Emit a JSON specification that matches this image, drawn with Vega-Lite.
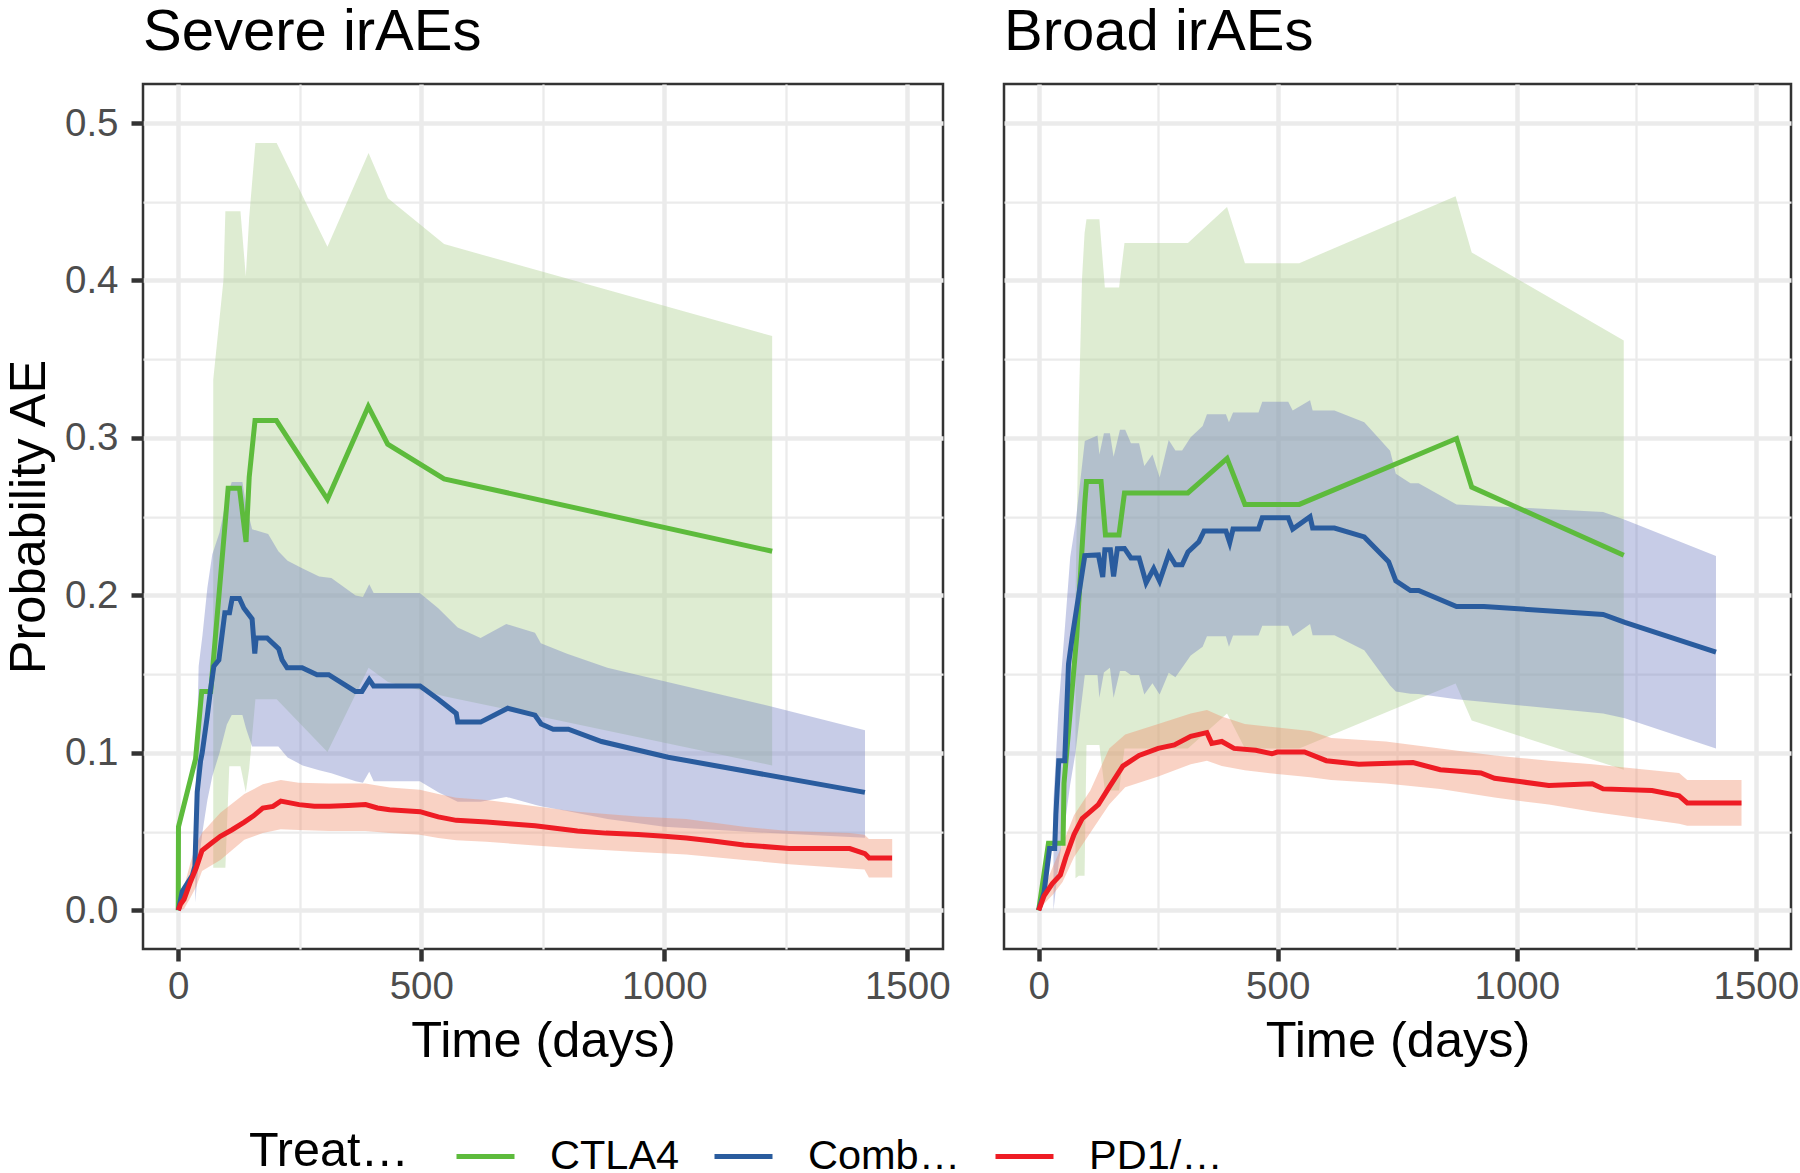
{
  "$schema": "https://vega.github.io/schema/vega-lite/v6.json",
  "background": "white",
  "padding": {"left": 3, "top": 2, "right": 0, "bottom": 110},
  "bounds": "flush",
  "spacing": 61,
  "config": {
    "font": "Liberation Sans",
    "view": {"stroke": "#333333", "strokeWidth": 2.5},
    "axis": {
      "domain": false,
      "gridColor": "#EBEBEB",
      "tickColor": "#333333",
      "tickSize": 12,
      "tickWidth": 4.5,
      "labelColor": "#4D4D4D",
      "labelFontSize": 38.5,
      "titleFontSize": 50.5,
      "titleColor": "#000000",
      "titleFontWeight": "normal"
    },
    "axisX": {"labelPadding": 7, "titlePadding": 11},
    "axisY": {"labelPadding": 13, "titlePadding": 9},
    "title": {"fontSize": 58, "fontWeight": "normal", "anchor": "start", "frame": "group", "color": "#000000", "offset": 22},
    "legend": {
      "orient": "none",
      "legendX": 106,
      "legendY": 1041,
      "direction": "horizontal",
      "titleOrient": "left",
      "titleFontSize": 48.5,
      "titleFontWeight": "normal",
      "titleColor": "#000000",
      "titlePadding": 45,
      "labelFontSize": 41.5,
      "labelColor": "#000000",
      "labelOffset": 33,
      "symbolType": "stroke",
      "symbolSize": 3364,
      "symbolStrokeWidth": 5,
      "columnPadding": 24
    }
  },
  "datasets": {
    "estL": [
      {"treatment": "CTLA4", "time": 0, "p": 0},
      {"treatment": "CTLA4", "time": 0.5, "p": 0.053},
      {"treatment": "CTLA4", "time": 35.6, "p": 0.096},
      {"treatment": "CTLA4", "time": 48.3, "p": 0.139},
      {"treatment": "CTLA4", "time": 66.8, "p": 0.139},
      {"treatment": "CTLA4", "time": 102.7, "p": 0.268},
      {"treatment": "CTLA4", "time": 126, "p": 0.268},
      {"treatment": "CTLA4", "time": 139.5, "p": 0.234},
      {"treatment": "CTLA4", "time": 146, "p": 0.275},
      {"treatment": "CTLA4", "time": 158, "p": 0.311},
      {"treatment": "CTLA4", "time": 202, "p": 0.311},
      {"treatment": "CTLA4", "time": 307, "p": 0.261},
      {"treatment": "CTLA4", "time": 391, "p": 0.32},
      {"treatment": "CTLA4", "time": 431, "p": 0.296},
      {"treatment": "CTLA4", "time": 547, "p": 0.274},
      {"treatment": "CTLA4", "time": 1222, "p": 0.228},
      {"treatment": "Combination therapy", "time": 0, "p": 0},
      {"treatment": "Combination therapy", "time": 1.4, "p": 0.0015},
      {"treatment": "Combination therapy", "time": 8.2, "p": 0.012},
      {"treatment": "Combination therapy", "time": 28.8, "p": 0.022},
      {"treatment": "Combination therapy", "time": 34.3, "p": 0.028},
      {"treatment": "Combination therapy", "time": 39, "p": 0.075},
      {"treatment": "Combination therapy", "time": 46, "p": 0.095},
      {"treatment": "Combination therapy", "time": 49.3, "p": 0.1},
      {"treatment": "Combination therapy", "time": 59.6, "p": 0.123},
      {"treatment": "Combination therapy", "time": 66.4, "p": 0.14},
      {"treatment": "Combination therapy", "time": 73.3, "p": 0.155},
      {"treatment": "Combination therapy", "time": 83.6, "p": 0.159},
      {"treatment": "Combination therapy", "time": 95.9, "p": 0.189},
      {"treatment": "Combination therapy", "time": 105.5, "p": 0.189},
      {"treatment": "Combination therapy", "time": 110.9, "p": 0.198},
      {"treatment": "Combination therapy", "time": 126, "p": 0.198},
      {"treatment": "Combination therapy", "time": 134.9, "p": 0.192},
      {"treatment": "Combination therapy", "time": 152, "p": 0.185},
      {"treatment": "Combination therapy", "time": 157.5, "p": 0.163},
      {"treatment": "Combination therapy", "time": 160.3, "p": 0.173},
      {"treatment": "Combination therapy", "time": 182.9, "p": 0.173},
      {"treatment": "Combination therapy", "time": 206.8, "p": 0.166},
      {"treatment": "Combination therapy", "time": 213.7, "p": 0.159},
      {"treatment": "Combination therapy", "time": 224, "p": 0.154},
      {"treatment": "Combination therapy", "time": 254.8, "p": 0.154},
      {"treatment": "Combination therapy", "time": 285.6, "p": 0.1496},
      {"treatment": "Combination therapy", "time": 309.6, "p": 0.1496},
      {"treatment": "Combination therapy", "time": 364.4, "p": 0.139},
      {"treatment": "Combination therapy", "time": 378, "p": 0.139},
      {"treatment": "Combination therapy", "time": 393, "p": 0.1465},
      {"treatment": "Combination therapy", "time": 402, "p": 0.1425},
      {"treatment": "Combination therapy", "time": 497.6, "p": 0.1425},
      {"treatment": "Combination therapy", "time": 535, "p": 0.134},
      {"treatment": "Combination therapy", "time": 572, "p": 0.125},
      {"treatment": "Combination therapy", "time": 575, "p": 0.1195},
      {"treatment": "Combination therapy", "time": 622, "p": 0.1195},
      {"treatment": "Combination therapy", "time": 678, "p": 0.1283},
      {"treatment": "Combination therapy", "time": 734, "p": 0.1239},
      {"treatment": "Combination therapy", "time": 746.7, "p": 0.1183},
      {"treatment": "Combination therapy", "time": 771.5, "p": 0.115},
      {"treatment": "Combination therapy", "time": 802.7, "p": 0.115},
      {"treatment": "Combination therapy", "time": 871, "p": 0.1072},
      {"treatment": "Combination therapy", "time": 1008, "p": 0.0972},
      {"treatment": "Combination therapy", "time": 1412.8, "p": 0.0749},
      {"treatment": "PD1/PD-L1", "time": 0, "p": 0},
      {"treatment": "PD1/PD-L1", "time": 5, "p": 0.004},
      {"treatment": "PD1/PD-L1", "time": 12, "p": 0.007},
      {"treatment": "PD1/PD-L1", "time": 25, "p": 0.018},
      {"treatment": "PD1/PD-L1", "time": 37, "p": 0.027},
      {"treatment": "PD1/PD-L1", "time": 49, "p": 0.038},
      {"treatment": "PD1/PD-L1", "time": 70, "p": 0.043},
      {"treatment": "PD1/PD-L1", "time": 86.7, "p": 0.047},
      {"treatment": "PD1/PD-L1", "time": 110, "p": 0.051},
      {"treatment": "PD1/PD-L1", "time": 136, "p": 0.056},
      {"treatment": "PD1/PD-L1", "time": 155, "p": 0.06},
      {"treatment": "PD1/PD-L1", "time": 174, "p": 0.0649},
      {"treatment": "PD1/PD-L1", "time": 195, "p": 0.066},
      {"treatment": "PD1/PD-L1", "time": 211, "p": 0.0693},
      {"treatment": "PD1/PD-L1", "time": 248.6, "p": 0.0671},
      {"treatment": "PD1/PD-L1", "time": 280, "p": 0.066},
      {"treatment": "PD1/PD-L1", "time": 311, "p": 0.066},
      {"treatment": "PD1/PD-L1", "time": 350, "p": 0.0665},
      {"treatment": "PD1/PD-L1", "time": 385.5, "p": 0.0671},
      {"treatment": "PD1/PD-L1", "time": 410, "p": 0.065},
      {"treatment": "PD1/PD-L1", "time": 435, "p": 0.0638},
      {"treatment": "PD1/PD-L1", "time": 497.6, "p": 0.0626},
      {"treatment": "PD1/PD-L1", "time": 515, "p": 0.061},
      {"treatment": "PD1/PD-L1", "time": 535, "p": 0.0593},
      {"treatment": "PD1/PD-L1", "time": 572, "p": 0.0571},
      {"treatment": "PD1/PD-L1", "time": 634.5, "p": 0.056},
      {"treatment": "PD1/PD-L1", "time": 680, "p": 0.055},
      {"treatment": "PD1/PD-L1", "time": 734, "p": 0.0537},
      {"treatment": "PD1/PD-L1", "time": 780, "p": 0.052},
      {"treatment": "PD1/PD-L1", "time": 821.4, "p": 0.0504},
      {"treatment": "PD1/PD-L1", "time": 880, "p": 0.049},
      {"treatment": "PD1/PD-L1", "time": 945.9, "p": 0.0481},
      {"treatment": "PD1/PD-L1", "time": 1000, "p": 0.047},
      {"treatment": "PD1/PD-L1", "time": 1045.5, "p": 0.0459},
      {"treatment": "PD1/PD-L1", "time": 1100, "p": 0.044},
      {"treatment": "PD1/PD-L1", "time": 1163.7, "p": 0.0415},
      {"treatment": "PD1/PD-L1", "time": 1257, "p": 0.0392},
      {"treatment": "PD1/PD-L1", "time": 1381.6, "p": 0.0392},
      {"treatment": "PD1/PD-L1", "time": 1412.8, "p": 0.036},
      {"treatment": "PD1/PD-L1", "time": 1421.6, "p": 0.0332},
      {"treatment": "PD1/PD-L1", "time": 1468.8, "p": 0.0332}
    ],
    "ciL": [
      {"arm": "CTLA4", "time": 72, "lower": 0.027, "upper": 0.337},
      {"arm": "CTLA4", "time": 93, "lower": 0.027, "upper": 0.4},
      {"arm": "CTLA4", "time": 97, "lower": 0.027, "upper": 0.444},
      {"arm": "CTLA4", "time": 105, "lower": 0.0915, "upper": 0.444},
      {"arm": "CTLA4", "time": 128, "lower": 0.0915, "upper": 0.444},
      {"arm": "CTLA4", "time": 139, "lower": 0.075, "upper": 0.4025},
      {"arm": "CTLA4", "time": 146, "lower": 0.09, "upper": 0.44},
      {"arm": "CTLA4", "time": 158.8, "lower": 0.134, "upper": 0.4873},
      {"arm": "CTLA4", "time": 202.5, "lower": 0.134, "upper": 0.4873},
      {"arm": "CTLA4", "time": 307, "lower": 0.1006, "upper": 0.4214},
      {"arm": "CTLA4", "time": 391.6, "lower": 0.154, "upper": 0.481},
      {"arm": "CTLA4", "time": 431.5, "lower": 0.145, "upper": 0.4522},
      {"arm": "CTLA4", "time": 547, "lower": 0.136, "upper": 0.4231},
      {"arm": "CTLA4", "time": 1222, "lower": 0.092, "upper": 0.3647},
      {"arm": "Combination therapy", "time": 35, "lower": 0.005, "upper": 0.06},
      {"arm": "Combination therapy", "time": 42, "lower": 0.03, "upper": 0.155},
      {"arm": "Combination therapy", "time": 50, "lower": 0.05, "upper": 0.175},
      {"arm": "Combination therapy", "time": 60, "lower": 0.07, "upper": 0.205},
      {"arm": "Combination therapy", "time": 70, "lower": 0.085, "upper": 0.226},
      {"arm": "Combination therapy", "time": 85, "lower": 0.1, "upper": 0.24},
      {"arm": "Combination therapy", "time": 95, "lower": 0.112, "upper": 0.255},
      {"arm": "Combination therapy", "time": 100, "lower": 0.118, "upper": 0.262},
      {"arm": "Combination therapy", "time": 110, "lower": 0.124, "upper": 0.272},
      {"arm": "Combination therapy", "time": 132, "lower": 0.124, "upper": 0.272},
      {"arm": "Combination therapy", "time": 140, "lower": 0.115, "upper": 0.257},
      {"arm": "Combination therapy", "time": 152, "lower": 0.104, "upper": 0.242},
      {"arm": "Combination therapy", "time": 185, "lower": 0.104, "upper": 0.239},
      {"arm": "Combination therapy", "time": 206, "lower": 0.104, "upper": 0.228},
      {"arm": "Combination therapy", "time": 225, "lower": 0.097, "upper": 0.222},
      {"arm": "Combination therapy", "time": 256, "lower": 0.092, "upper": 0.217},
      {"arm": "Combination therapy", "time": 290, "lower": 0.089, "upper": 0.212},
      {"arm": "Combination therapy", "time": 315, "lower": 0.087, "upper": 0.211},
      {"arm": "Combination therapy", "time": 365, "lower": 0.082, "upper": 0.2},
      {"arm": "Combination therapy", "time": 380, "lower": 0.081, "upper": 0.199},
      {"arm": "Combination therapy", "time": 393, "lower": 0.088, "upper": 0.207},
      {"arm": "Combination therapy", "time": 402, "lower": 0.082, "upper": 0.2015},
      {"arm": "Combination therapy", "time": 497, "lower": 0.082, "upper": 0.2015},
      {"arm": "Combination therapy", "time": 535, "lower": 0.075, "upper": 0.1918},
      {"arm": "Combination therapy", "time": 575, "lower": 0.069, "upper": 0.1796},
      {"arm": "Combination therapy", "time": 622, "lower": 0.069, "upper": 0.173},
      {"arm": "Combination therapy", "time": 675, "lower": 0.072, "upper": 0.1818},
      {"arm": "Combination therapy", "time": 734, "lower": 0.067, "upper": 0.1762},
      {"arm": "Combination therapy", "time": 746, "lower": 0.066, "upper": 0.1696},
      {"arm": "Combination therapy", "time": 800, "lower": 0.063, "upper": 0.163},
      {"arm": "Combination therapy", "time": 883, "lower": 0.058, "upper": 0.154},
      {"arm": "Combination therapy", "time": 1000, "lower": 0.053, "upper": 0.1455},
      {"arm": "Combination therapy", "time": 1220, "lower": 0.049, "upper": 0.1295},
      {"arm": "Combination therapy", "time": 1413, "lower": 0.046, "upper": 0.1143},
      {"arm": "PD1/PD-L1", "time": 5, "lower": 0, "upper": 0.012},
      {"arm": "PD1/PD-L1", "time": 12, "lower": 0.001, "upper": 0.015},
      {"arm": "PD1/PD-L1", "time": 25, "lower": 0.008, "upper": 0.03},
      {"arm": "PD1/PD-L1", "time": 37, "lower": 0.015, "upper": 0.042},
      {"arm": "PD1/PD-L1", "time": 49, "lower": 0.025, "upper": 0.0493},
      {"arm": "PD1/PD-L1", "time": 86.7, "lower": 0.032, "upper": 0.062},
      {"arm": "PD1/PD-L1", "time": 136, "lower": 0.0448, "upper": 0.0738},
      {"arm": "PD1/PD-L1", "time": 174, "lower": 0.049, "upper": 0.08},
      {"arm": "PD1/PD-L1", "time": 211, "lower": 0.0515, "upper": 0.0827},
      {"arm": "PD1/PD-L1", "time": 248, "lower": 0.051, "upper": 0.081},
      {"arm": "PD1/PD-L1", "time": 311, "lower": 0.0504, "upper": 0.0805},
      {"arm": "PD1/PD-L1", "time": 385, "lower": 0.0504, "upper": 0.0805},
      {"arm": "PD1/PD-L1", "time": 435, "lower": 0.049, "upper": 0.078},
      {"arm": "PD1/PD-L1", "time": 497, "lower": 0.048, "upper": 0.0765},
      {"arm": "PD1/PD-L1", "time": 535, "lower": 0.0459, "upper": 0.0738},
      {"arm": "PD1/PD-L1", "time": 572, "lower": 0.0445, "upper": 0.0715},
      {"arm": "PD1/PD-L1", "time": 634, "lower": 0.0435, "upper": 0.07},
      {"arm": "PD1/PD-L1", "time": 734, "lower": 0.0412, "upper": 0.066},
      {"arm": "PD1/PD-L1", "time": 821, "lower": 0.0392, "upper": 0.0626},
      {"arm": "PD1/PD-L1", "time": 946, "lower": 0.037, "upper": 0.0595},
      {"arm": "PD1/PD-L1", "time": 1045, "lower": 0.0355, "upper": 0.058},
      {"arm": "PD1/PD-L1", "time": 1164, "lower": 0.032, "upper": 0.053},
      {"arm": "PD1/PD-L1", "time": 1257, "lower": 0.0292, "upper": 0.0504},
      {"arm": "PD1/PD-L1", "time": 1381, "lower": 0.0265, "upper": 0.049},
      {"arm": "PD1/PD-L1", "time": 1412, "lower": 0.0259, "upper": 0.048},
      {"arm": "PD1/PD-L1", "time": 1421, "lower": 0.0208, "upper": 0.0453},
      {"arm": "PD1/PD-L1", "time": 1469, "lower": 0.0208, "upper": 0.0453}
    ],
    "estR": [
      {"treatment": "CTLA4", "time": 0, "p": 0},
      {"treatment": "CTLA4", "time": 20.5, "p": 0.0426},
      {"treatment": "CTLA4", "time": 51, "p": 0.0426},
      {"treatment": "CTLA4", "time": 53, "p": 0.0805},
      {"treatment": "CTLA4", "time": 79.6, "p": 0.174},
      {"treatment": "CTLA4", "time": 96.5, "p": 0.2587},
      {"treatment": "CTLA4", "time": 100, "p": 0.2724},
      {"treatment": "CTLA4", "time": 130.5, "p": 0.2724},
      {"treatment": "CTLA4", "time": 139.7, "p": 0.2384},
      {"treatment": "CTLA4", "time": 168, "p": 0.2384},
      {"treatment": "CTLA4", "time": 179.5, "p": 0.2651},
      {"treatment": "CTLA4", "time": 312, "p": 0.2651},
      {"treatment": "CTLA4", "time": 394, "p": 0.287},
      {"treatment": "CTLA4", "time": 431.4, "p": 0.2578},
      {"treatment": "CTLA4", "time": 545, "p": 0.2578},
      {"treatment": "CTLA4", "time": 874, "p": 0.2996},
      {"treatment": "CTLA4", "time": 905.7, "p": 0.2688},
      {"treatment": "CTLA4", "time": 1223.7, "p": 0.2255},
      {"treatment": "Combination therapy", "time": 0, "p": 0},
      {"treatment": "Combination therapy", "time": 11.3, "p": 0.0114},
      {"treatment": "Combination therapy", "time": 22.8, "p": 0.0392},
      {"treatment": "Combination therapy", "time": 33.5, "p": 0.0392},
      {"treatment": "Combination therapy", "time": 36, "p": 0.061},
      {"treatment": "Combination therapy", "time": 42, "p": 0.095},
      {"treatment": "Combination therapy", "time": 54.5, "p": 0.095},
      {"treatment": "Combination therapy", "time": 62.4, "p": 0.1562},
      {"treatment": "Combination therapy", "time": 70.4, "p": 0.174},
      {"treatment": "Combination therapy", "time": 96.5, "p": 0.2253},
      {"treatment": "Combination therapy", "time": 125, "p": 0.2257},
      {"treatment": "Combination therapy", "time": 134, "p": 0.2117},
      {"treatment": "Combination therapy", "time": 138.5, "p": 0.229},
      {"treatment": "Combination therapy", "time": 150, "p": 0.229},
      {"treatment": "Combination therapy", "time": 156.7, "p": 0.212},
      {"treatment": "Combination therapy", "time": 164.6, "p": 0.2296},
      {"treatment": "Combination therapy", "time": 179.5, "p": 0.2298},
      {"treatment": "Combination therapy", "time": 193, "p": 0.2238},
      {"treatment": "Combination therapy", "time": 210, "p": 0.2238},
      {"treatment": "Combination therapy", "time": 224.7, "p": 0.208},
      {"treatment": "Combination therapy", "time": 240.6, "p": 0.217},
      {"treatment": "Combination therapy", "time": 253, "p": 0.209},
      {"treatment": "Combination therapy", "time": 272.4, "p": 0.2263},
      {"treatment": "Combination therapy", "time": 286, "p": 0.2195},
      {"treatment": "Combination therapy", "time": 300, "p": 0.2195},
      {"treatment": "Combination therapy", "time": 312.3, "p": 0.2276},
      {"treatment": "Combination therapy", "time": 335, "p": 0.234},
      {"treatment": "Combination therapy", "time": 346, "p": 0.2409},
      {"treatment": "Combination therapy", "time": 391.6, "p": 0.2409},
      {"treatment": "Combination therapy", "time": 399.6, "p": 0.2335},
      {"treatment": "Combination therapy", "time": 406.5, "p": 0.2421},
      {"treatment": "Combination therapy", "time": 459.8, "p": 0.2421},
      {"treatment": "Combination therapy", "time": 467.7, "p": 0.2493},
      {"treatment": "Combination therapy", "time": 522, "p": 0.2493},
      {"treatment": "Combination therapy", "time": 531.3, "p": 0.2421},
      {"treatment": "Combination therapy", "time": 567.6, "p": 0.25},
      {"treatment": "Combination therapy", "time": 573, "p": 0.2428},
      {"treatment": "Combination therapy", "time": 618.6, "p": 0.2428},
      {"treatment": "Combination therapy", "time": 681, "p": 0.2371},
      {"treatment": "Combination therapy", "time": 732, "p": 0.2213},
      {"treatment": "Combination therapy", "time": 747, "p": 0.2092},
      {"treatment": "Combination therapy", "time": 777.6, "p": 0.2031},
      {"treatment": "Combination therapy", "time": 794.6, "p": 0.2031},
      {"treatment": "Combination therapy", "time": 874, "p": 0.1929},
      {"treatment": "Combination therapy", "time": 931, "p": 0.1929},
      {"treatment": "Combination therapy", "time": 1180.5, "p": 0.1879},
      {"treatment": "Combination therapy", "time": 1226, "p": 0.1829},
      {"treatment": "Combination therapy", "time": 1416.6, "p": 0.164},
      {"treatment": "PD1/PD-L1", "time": 0, "p": 0},
      {"treatment": "PD1/PD-L1", "time": 11.3, "p": 0.0092},
      {"treatment": "PD1/PD-L1", "time": 28.5, "p": 0.017},
      {"treatment": "PD1/PD-L1", "time": 45.4, "p": 0.0225},
      {"treatment": "PD1/PD-L1", "time": 56.8, "p": 0.0337},
      {"treatment": "PD1/PD-L1", "time": 73.9, "p": 0.0481},
      {"treatment": "PD1/PD-L1", "time": 91, "p": 0.0582},
      {"treatment": "PD1/PD-L1", "time": 108, "p": 0.0626},
      {"treatment": "PD1/PD-L1", "time": 124.8, "p": 0.0671},
      {"treatment": "PD1/PD-L1", "time": 147.6, "p": 0.0782},
      {"treatment": "PD1/PD-L1", "time": 176, "p": 0.0916},
      {"treatment": "PD1/PD-L1", "time": 210, "p": 0.0983},
      {"treatment": "PD1/PD-L1", "time": 250, "p": 0.1028},
      {"treatment": "PD1/PD-L1", "time": 283.8, "p": 0.105},
      {"treatment": "PD1/PD-L1", "time": 318, "p": 0.1105},
      {"treatment": "PD1/PD-L1", "time": 351.8, "p": 0.1128},
      {"treatment": "PD1/PD-L1", "time": 362, "p": 0.106},
      {"treatment": "PD1/PD-L1", "time": 383, "p": 0.1072},
      {"treatment": "PD1/PD-L1", "time": 408.6, "p": 0.1028},
      {"treatment": "PD1/PD-L1", "time": 454, "p": 0.1016},
      {"treatment": "PD1/PD-L1", "time": 488, "p": 0.0994},
      {"treatment": "PD1/PD-L1", "time": 499, "p": 0.1005},
      {"treatment": "PD1/PD-L1", "time": 556, "p": 0.1005},
      {"treatment": "PD1/PD-L1", "time": 601.6, "p": 0.095},
      {"treatment": "PD1/PD-L1", "time": 669.7, "p": 0.0927},
      {"treatment": "PD1/PD-L1", "time": 783, "p": 0.0938},
      {"treatment": "PD1/PD-L1", "time": 840, "p": 0.0893},
      {"treatment": "PD1/PD-L1", "time": 925, "p": 0.0872},
      {"treatment": "PD1/PD-L1", "time": 953.5, "p": 0.0838},
      {"treatment": "PD1/PD-L1", "time": 1010, "p": 0.0816},
      {"treatment": "PD1/PD-L1", "time": 1067, "p": 0.0793},
      {"treatment": "PD1/PD-L1", "time": 1158, "p": 0.0804},
      {"treatment": "PD1/PD-L1", "time": 1180.5, "p": 0.0771},
      {"treatment": "PD1/PD-L1", "time": 1282.7, "p": 0.076},
      {"treatment": "PD1/PD-L1", "time": 1339.5, "p": 0.0727},
      {"treatment": "PD1/PD-L1", "time": 1356.5, "p": 0.0682},
      {"treatment": "PD1/PD-L1", "time": 1470, "p": 0.0682}
    ],
    "ciR": [
      {"arm": "CTLA4", "time": 77, "lower": 0.0203, "upper": 0.2},
      {"arm": "CTLA4", "time": 84, "lower": 0.022, "upper": 0.32},
      {"arm": "CTLA4", "time": 90.7, "lower": 0.022, "upper": 0.4012},
      {"arm": "CTLA4", "time": 96, "lower": 0.022, "upper": 0.43},
      {"arm": "CTLA4", "time": 100, "lower": 0.105, "upper": 0.4389},
      {"arm": "CTLA4", "time": 127, "lower": 0.105, "upper": 0.4389},
      {"arm": "CTLA4", "time": 138.4, "lower": 0.076, "upper": 0.3956},
      {"arm": "CTLA4", "time": 168.2, "lower": 0.076, "upper": 0.3956},
      {"arm": "CTLA4", "time": 179.5, "lower": 0.1027, "upper": 0.4238},
      {"arm": "CTLA4", "time": 312.2, "lower": 0.1027, "upper": 0.4238},
      {"arm": "CTLA4", "time": 394, "lower": 0.125, "upper": 0.4467},
      {"arm": "CTLA4", "time": 431.4, "lower": 0.1027, "upper": 0.411},
      {"arm": "CTLA4", "time": 545, "lower": 0.1027, "upper": 0.411},
      {"arm": "CTLA4", "time": 872, "lower": 0.144, "upper": 0.4535},
      {"arm": "CTLA4", "time": 905.7, "lower": 0.1205, "upper": 0.4178},
      {"arm": "CTLA4", "time": 1223.7, "lower": 0.0893, "upper": 0.3619},
      {"arm": "Combination therapy", "time": 31, "lower": 0, "upper": 0.07},
      {"arm": "Combination therapy", "time": 42, "lower": 0.03, "upper": 0.13},
      {"arm": "Combination therapy", "time": 55, "lower": 0.055, "upper": 0.18},
      {"arm": "Combination therapy", "time": 66, "lower": 0.08, "upper": 0.2244},
      {"arm": "Combination therapy", "time": 77, "lower": 0.1, "upper": 0.2456},
      {"arm": "Combination therapy", "time": 96.5, "lower": 0.1495, "upper": 0.298},
      {"arm": "Combination therapy", "time": 123, "lower": 0.1495, "upper": 0.3015},
      {"arm": "Combination therapy", "time": 127, "lower": 0.135, "upper": 0.2894},
      {"arm": "Combination therapy", "time": 136.5, "lower": 0.151, "upper": 0.303},
      {"arm": "Combination therapy", "time": 149, "lower": 0.154, "upper": 0.303},
      {"arm": "Combination therapy", "time": 156.7, "lower": 0.135, "upper": 0.288},
      {"arm": "Combination therapy", "time": 170, "lower": 0.152, "upper": 0.3052},
      {"arm": "Combination therapy", "time": 181, "lower": 0.152, "upper": 0.3052},
      {"arm": "Combination therapy", "time": 193, "lower": 0.1495, "upper": 0.2967},
      {"arm": "Combination therapy", "time": 210, "lower": 0.1495, "upper": 0.2967},
      {"arm": "Combination therapy", "time": 221, "lower": 0.137, "upper": 0.2822},
      {"arm": "Combination therapy", "time": 238, "lower": 0.1442, "upper": 0.2894},
      {"arm": "Combination therapy", "time": 253, "lower": 0.137, "upper": 0.2749},
      {"arm": "Combination therapy", "time": 272, "lower": 0.1509, "upper": 0.2987},
      {"arm": "Combination therapy", "time": 286, "lower": 0.148, "upper": 0.292},
      {"arm": "Combination therapy", "time": 300, "lower": 0.154, "upper": 0.292},
      {"arm": "Combination therapy", "time": 318, "lower": 0.1618, "upper": 0.3005},
      {"arm": "Combination therapy", "time": 343, "lower": 0.1673, "upper": 0.3076},
      {"arm": "Combination therapy", "time": 352, "lower": 0.174, "upper": 0.315},
      {"arm": "Combination therapy", "time": 391.6, "lower": 0.174, "upper": 0.315},
      {"arm": "Combination therapy", "time": 398, "lower": 0.1673, "upper": 0.31},
      {"arm": "Combination therapy", "time": 406.5, "lower": 0.1745, "upper": 0.3162},
      {"arm": "Combination therapy", "time": 459.8, "lower": 0.1745, "upper": 0.3162},
      {"arm": "Combination therapy", "time": 467.7, "lower": 0.1807, "upper": 0.323},
      {"arm": "Combination therapy", "time": 522, "lower": 0.1807, "upper": 0.323},
      {"arm": "Combination therapy", "time": 531.3, "lower": 0.174, "upper": 0.3175},
      {"arm": "Combination therapy", "time": 567.6, "lower": 0.1818, "upper": 0.3239},
      {"arm": "Combination therapy", "time": 573, "lower": 0.1747, "upper": 0.3175},
      {"arm": "Combination therapy", "time": 618.6, "lower": 0.1747, "upper": 0.3175},
      {"arm": "Combination therapy", "time": 681, "lower": 0.1651, "upper": 0.31},
      {"arm": "Combination therapy", "time": 735, "lower": 0.1428, "upper": 0.2918},
      {"arm": "Combination therapy", "time": 747, "lower": 0.139, "upper": 0.2773},
      {"arm": "Combination therapy", "time": 777.6, "lower": 0.1375, "upper": 0.2712},
      {"arm": "Combination therapy", "time": 794.6, "lower": 0.1373, "upper": 0.2712},
      {"arm": "Combination therapy", "time": 874, "lower": 0.134, "upper": 0.2578},
      {"arm": "Combination therapy", "time": 1180.5, "lower": 0.125, "upper": 0.253},
      {"arm": "Combination therapy", "time": 1226, "lower": 0.122, "upper": 0.248},
      {"arm": "Combination therapy", "time": 1416.6, "lower": 0.1027, "upper": 0.225},
      {"arm": "PD1/PD-L1", "time": 5, "lower": 0, "upper": 0.006},
      {"arm": "PD1/PD-L1", "time": 11, "lower": 0.004, "upper": 0.014},
      {"arm": "PD1/PD-L1", "time": 30, "lower": 0.01, "upper": 0.028},
      {"arm": "PD1/PD-L1", "time": 50, "lower": 0.018, "upper": 0.042},
      {"arm": "PD1/PD-L1", "time": 73.9, "lower": 0.0337, "upper": 0.0604},
      {"arm": "PD1/PD-L1", "time": 108, "lower": 0.0493, "upper": 0.076},
      {"arm": "PD1/PD-L1", "time": 147.6, "lower": 0.0671, "upper": 0.1028},
      {"arm": "PD1/PD-L1", "time": 181, "lower": 0.0782, "upper": 0.1117},
      {"arm": "PD1/PD-L1", "time": 250, "lower": 0.0849, "upper": 0.1183},
      {"arm": "PD1/PD-L1", "time": 318, "lower": 0.0927, "upper": 0.125},
      {"arm": "PD1/PD-L1", "time": 352, "lower": 0.095, "upper": 0.1272},
      {"arm": "PD1/PD-L1", "time": 383, "lower": 0.0916, "upper": 0.123},
      {"arm": "PD1/PD-L1", "time": 431, "lower": 0.089, "upper": 0.1183},
      {"arm": "PD1/PD-L1", "time": 499, "lower": 0.0865, "upper": 0.1161},
      {"arm": "PD1/PD-L1", "time": 568, "lower": 0.0845, "upper": 0.1139},
      {"arm": "PD1/PD-L1", "time": 612, "lower": 0.0827, "upper": 0.1094},
      {"arm": "PD1/PD-L1", "time": 726, "lower": 0.0805, "upper": 0.1072},
      {"arm": "PD1/PD-L1", "time": 840, "lower": 0.0771, "upper": 0.1028},
      {"arm": "PD1/PD-L1", "time": 953.5, "lower": 0.0716, "upper": 0.0983},
      {"arm": "PD1/PD-L1", "time": 1067, "lower": 0.0671, "upper": 0.095},
      {"arm": "PD1/PD-L1", "time": 1158, "lower": 0.0626, "upper": 0.0927},
      {"arm": "PD1/PD-L1", "time": 1339.5, "lower": 0.0549, "upper": 0.0872},
      {"arm": "PD1/PD-L1", "time": 1356.5, "lower": 0.0537, "upper": 0.0827},
      {"arm": "PD1/PD-L1", "time": 1470, "lower": 0.0537, "upper": 0.0827}
    ]
  },
  "resolve": {"scale": {"color": "shared", "fill": "shared"}, "legend": {"color": "shared"}},
  "hconcat": [
    {
      "title": "Severe irAEs",
      "width": 800,
      "height": 865,
      "layer": [
        {
          "data": {"name": "ciL"},
          "mark": {"type": "area", "opacity": 0.4, "interpolate": "linear"},
          "encoding": {
            "x": {"field": "time", "type": "quantitative", "scale": {"domain": [-72.5, 1573.5], "nice": false, "zero": false},
              "axis": {"title": "Time (days)", "values": [0, 250, 500, 750, 1000, 1250, 1500], "format": "d",
                "labelExpr": "datum.value % 500 === 0 ? datum.label : ''",
                "gridWidth": {"condition": {"test": "datum.value % 500 === 0", "value": 4.5}, "value": 2.25},
                "tickOpacity": {"condition": {"test": "datum.value % 500 === 0", "value": 1}, "value": 0}}},
            "y": {"field": "upper", "type": "quantitative", "scale": {"domain": [-0.0246, 0.5248], "nice": false, "zero": false},
              "axis": {"title": "Probability AE", "values": [0, 0.05, 0.1, 0.15, 0.2, 0.25, 0.3, 0.35, 0.4, 0.45, 0.5],
                "labelExpr": "round(datum.value * 20) % 2 === 0 ? format(datum.value, '.1f') : ''",
                "gridWidth": {"condition": {"test": "round(datum.value * 20) % 2 === 0", "value": 4.5}, "value": 2.25},
                "tickOpacity": {"condition": {"test": "round(datum.value * 20) % 2 === 0", "value": 1}, "value": 0}}},
            "y2": {"field": "lower"},
            "fill": {"field": "arm", "type": "nominal", "legend": null,
              "scale": {"range": ["#ADD08F", "#7380C3", "#F08E6B"]}}
          }
        },
        {
          "data": {"name": "estL"},
          "mark": {"type": "line", "strokeWidth": 5, "interpolate": "linear"},
          "encoding": {
            "x": {"field": "time", "type": "quantitative"},
            "y": {"field": "p", "type": "quantitative"},
            "color": {"field": "treatment", "type": "nominal", "title": "Treatment",
              "scale": {"domain": ["CTLA4", "Combination therapy", "PD1/PD-L1"], "range": ["#5DBB3C", "#2A5C9E", "#EE1C24"]}}
          }
        }
      ]
    },
    {
      "title": "Broad irAEs",
      "width": 787,
      "height": 865,
      "layer": [
        {
          "data": {"name": "ciR"},
          "mark": {"type": "area", "opacity": 0.4, "interpolate": "linear"},
          "encoding": {
            "x": {"field": "time", "type": "quantitative", "scale": {"domain": [-72.5, 1573.5], "nice": false, "zero": false},
              "axis": {"title": "Time (days)", "values": [0, 250, 500, 750, 1000, 1250, 1500], "format": "d",
                "labelExpr": "datum.value % 500 === 0 ? datum.label : ''",
                "gridWidth": {"condition": {"test": "datum.value % 500 === 0", "value": 4.5}, "value": 2.25},
                "tickOpacity": {"condition": {"test": "datum.value % 500 === 0", "value": 1}, "value": 0}}},
            "y": {"field": "upper", "type": "quantitative", "scale": {"domain": [-0.0246, 0.5248], "nice": false, "zero": false},
              "axis": {"title": null, "labels": false, "ticks": false, "values": [0, 0.05, 0.1, 0.15, 0.2, 0.25, 0.3, 0.35, 0.4, 0.45, 0.5],
                "gridWidth": {"condition": {"test": "round(datum.value * 20) % 2 === 0", "value": 4.5}, "value": 2.25}}},
            "y2": {"field": "lower"},
            "fill": {"field": "arm", "type": "nominal", "legend": null,
              "scale": {"range": ["#ADD08F", "#7380C3", "#F08E6B"]}}
          }
        },
        {
          "data": {"name": "estR"},
          "mark": {"type": "line", "strokeWidth": 5, "interpolate": "linear"},
          "encoding": {
            "x": {"field": "time", "type": "quantitative"},
            "y": {"field": "p", "type": "quantitative"},
            "color": {"field": "treatment", "type": "nominal", "title": "Treatment",
              "scale": {"domain": ["CTLA4", "Combination therapy", "PD1/PD-L1"], "range": ["#5DBB3C", "#2A5C9E", "#EE1C24"]}}
          }
        }
      ]
    }
  ]
}
